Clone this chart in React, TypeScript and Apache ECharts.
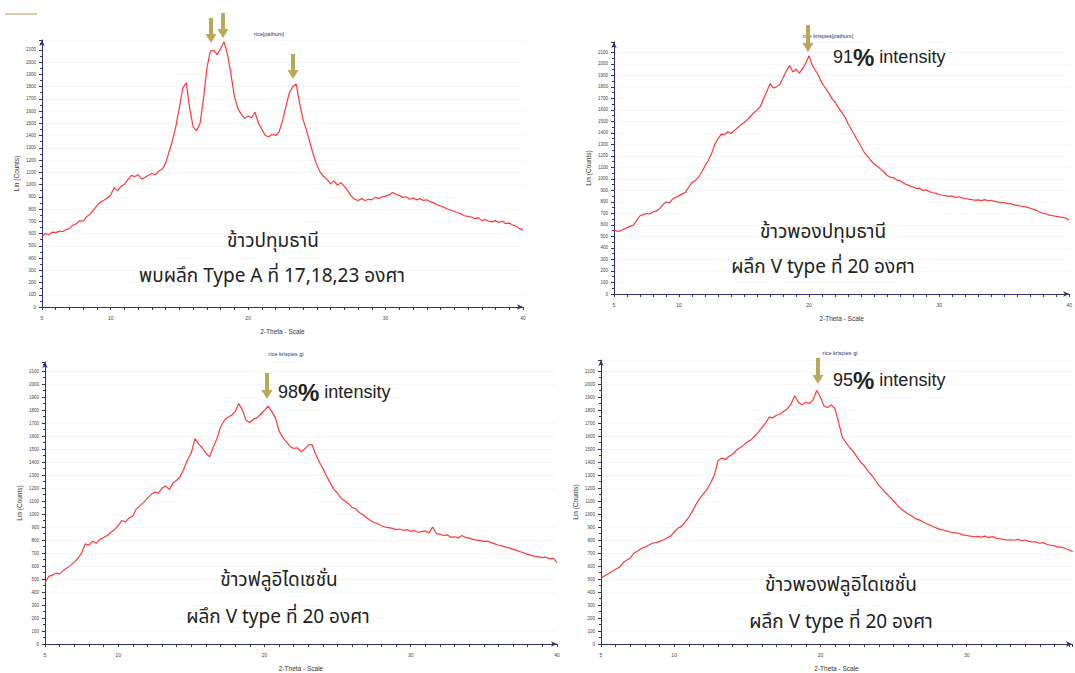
import React, { useEffect, useRef } from "react";
import * as echarts from "echarts";

// 2-Theta grid: 5.00 → step 0.25
const X_START = 5;
const X_STEP = 0.25;

const ricePathum = [
  575, 600, 590, 612, 605, 620, 615, 632, 640, 668, 680, 705, 700, 738, 760, 790, 830, 855, 872, 890,
  915, 975, 950, 985, 1000, 1040, 1075, 1065, 1080, 1045, 1060, 1075, 1090, 1080, 1110, 1125, 1175, 1270, 1360, 1480,
  1630, 1790, 1830, 1620, 1470, 1440, 1500, 1700, 1950, 2090, 2095, 2060, 2110, 2165, 2060, 1900, 1720, 1620, 1575, 1540,
  1560, 1545, 1590, 1500, 1450, 1400, 1390, 1410, 1400, 1430, 1520, 1640, 1750, 1800, 1820, 1660, 1530, 1440, 1340, 1240,
  1160, 1100, 1065, 1040, 1005, 1030, 995, 1015, 985, 950, 905, 880, 870, 885, 870, 880, 875, 895, 885, 900,
  905, 915, 935, 920, 910, 895, 900, 880, 890, 875, 885, 870, 875, 860, 850, 835, 825, 815, 800, 790,
  780, 770, 760, 745, 740, 735, 720, 730, 705, 715, 700, 695, 705, 690, 700, 680, 685, 670, 660, 640, 630,
];

const puffedPathum = [
  556, 545, 548, 565, 575, 590, 600, 640, 680, 690, 700, 695, 715, 720, 740, 775, 800, 790, 825, 840,
  855, 870, 885, 930, 970, 985, 1015, 1060, 1115, 1160, 1220, 1300, 1350, 1390, 1385, 1410, 1395, 1420, 1445, 1470,
  1490, 1515, 1545, 1575, 1600, 1630, 1700, 1760, 1830, 1790, 1800, 1820, 1880, 1940, 1985, 1930, 1955, 1920, 1960, 2010,
  2070, 1985, 1940, 1895, 1830, 1790, 1750, 1700, 1665, 1620, 1580, 1540, 1480, 1430, 1380, 1330, 1280, 1230, 1195, 1160,
  1130, 1110, 1085, 1060, 1030, 1015, 1010, 990, 985, 965, 950, 940, 930, 915, 920, 900, 905, 890, 880, 875,
  865, 858, 855, 848, 852, 840, 845, 835, 830, 825, 820, 815, 818, 812, 820, 810, 815, 805, 800, 795,
  795, 785, 785, 775, 770, 765, 760, 755, 745, 735, 725, 710, 700, 695, 685, 680, 675, 670, 665, 660, 640,
];

const riceFluidized = [
  470, 520, 530, 545, 540, 565, 585, 605, 630, 660, 700, 770, 760, 790, 775, 805, 820, 835, 860, 880,
  910, 950, 940, 970, 985, 1040, 1065, 1090, 1120, 1150, 1170, 1160, 1200, 1215, 1190, 1240, 1260, 1290, 1350, 1420,
  1470, 1580, 1540, 1510, 1470, 1440, 1515, 1580, 1670, 1720, 1745, 1760, 1790, 1850, 1800, 1720, 1705, 1730, 1740, 1770,
  1800, 1830, 1790, 1740, 1640, 1590, 1555, 1520, 1505, 1510, 1480, 1500, 1530, 1535, 1460, 1400, 1350, 1290, 1240, 1190,
  1160, 1120, 1100, 1080, 1050, 1040, 1010, 995, 970, 950, 935, 925, 910, 900, 895, 890, 880, 885, 875, 880,
  868, 872, 860, 865, 870, 855, 900, 850, 845, 835, 840, 820, 825, 815, 835, 820, 815, 805, 800, 795,
  790, 792, 780, 770, 760, 755, 745, 740, 728, 720, 710, 700, 690, 680, 675, 670, 665, 668, 655, 660, 626,
];

const puffedFluidized = [
  505, 525, 540, 560, 575, 590, 625, 645, 660, 700, 715, 735, 745, 760, 775, 780, 790, 800, 815, 830,
  860, 890, 905, 940, 975, 1020, 1075, 1120, 1155, 1190, 1240, 1300, 1410, 1430, 1420, 1445, 1460, 1490, 1510, 1530,
  1555, 1570, 1600, 1630, 1665, 1700, 1745, 1740, 1760, 1770, 1790, 1810, 1850, 1910, 1860, 1840, 1860, 1850, 1880, 1950,
  1900, 1830, 1820, 1840, 1810, 1700, 1590, 1550, 1510, 1480, 1440, 1400, 1370, 1330, 1300, 1260, 1220, 1190, 1160, 1130,
  1100, 1070, 1040, 1020, 1000, 985, 965, 955, 940, 925, 915, 900, 890, 880, 875, 865, 860, 855, 850, 840,
  835, 830, 825, 828, 822, 830, 818, 826, 815, 810, 805, 800, 802, 798, 806, 795, 800, 790, 785, 785,
  775, 780, 765, 760, 755, 745, 745, 735, 725, 710,
];

const panelTitles = ["rice[pathum]", "rice krispies[pathum]", "rice krispies gi", "rice krispies gi"];
const sampleNames = ["ข้าวปทุมธานี", "ข้าวพองปทุมธานี", "ข้าวฟลูอิไดเซชั่น", "ข้าวพองฟลูอิไดเซชั่น"];
const crystalNotes = [
  "พบผลึก Type A ที่ 17,18,23 องศา",
  "ผลึก V type ที่ 20 องศา",
  "ผลึก V type ที่ 20 องศา",
  "ผลึก V type ที่ 20 องศา",
];
const intensityPct = ["", "91", "98", "95"];
const xMaxes = [40, 40, 40, 37.2];
const yMaxes = [2180, 2190, 2170, 2185];

const AXIS = "#2e3070";
const ARROW = "#b9a85c";
const LINE = "#ff3838";
const THAI_FONT = "'Noto Sans Thai', 'Noto Sans', 'DejaVu Sans', sans-serif";

const toPairs = (vals: number[]) => vals.map((c, i) => [X_START + i * X_STEP, c]);

function arrow(cx: number, top: number, len: number) {
  const hw = 5.5;
  const sw = 2;
  const hh = 9;
  return {
    type: "polygon",
    silent: true,
    shape: {
      points: [
        [cx - sw, top],
        [cx + sw, top],
        [cx + sw, top + len - hh],
        [cx + hw, top + len - hh],
        [cx, top + len],
        [cx - hw, top + len - hh],
        [cx - sw, top + len - hh],
      ],
    },
    style: { fill: ARROW },
    z: 100,
  };
}

function bigText(text: string, x: number, y: number) {
  return {
    type: "text",
    x,
    y,
    silent: true,
    style: {
      text,
      fill: "#222",
      fontSize: 19,
      fontFamily: THAI_FONT,
      align: "center",
      verticalAlign: "middle",
    },
    z: 100,
  };
}

function pctText(pct: string, x: number, y: number) {
  return {
    type: "text",
    x,
    y,
    silent: true,
    style: {
      text: `{a|${pct}}{b|%}{a| intensity}`,
      align: "left",
      verticalAlign: "middle",
      rich: {
        a: { fontSize: 18, fill: "#222", fontFamily: "Arial, 'Liberation Sans', sans-serif" },
        b: { fontSize: 24, fontWeight: "bold", fill: "#222", fontFamily: "Arial, 'Liberation Sans', sans-serif" },
      },
    },
    z: 100,
  };
}

function smallTitle(text: string, x: number, y: number) {
  return {
    type: "text",
    x,
    y,
    silent: true,
    style: {
      text,
      fill: "#2e3070",
      fontSize: 5.5,
      fontFamily: "Arial, sans-serif",
      align: "center",
      verticalAlign: "middle",
    },
    z: 90,
  };
}

export default function App() {
  const ref = useRef<HTMLDivElement>(null);

  useEffect(() => {
    if (!ref.current) return;
    const chart = echarts.init(ref.current, undefined, { renderer: "svg" });

    const grids = [
      { left: 42, top: 40, width: 481, height: 267 },
      { left: 614, top: 42, width: 456, height: 252 },
      { left: 45, top: 362, width: 512, height: 283 },
      { left: 601, top: 360, width: 472, height: 284 },
    ];

    const seriesData = [ricePathum, puffedPathum, riceFluidized, puffedFluidized];

    const xAxes = grids.map((_, i) => ({
      type: "value",
      gridIndex: i,
      min: 5,
      max: xMaxes[i],
      interval: 1,
      name: "2-Theta - Scale",
      nameLocation: "middle",
      nameGap: 21,
      nameTextStyle: { fontSize: 6.5, color: "#333", fontFamily: "Arial, sans-serif" },
      axisLine: { show: true, onZero: false, lineStyle: { color: AXIS, width: 1 }, symbol: ["none", "arrow"], symbolSize: [4, 6] },
      axisTick: { show: true, length: 3, lineStyle: { color: AXIS } },
      axisLabel: {
        interval: 0,
        fontSize: 5,
        color: "#444",
        margin: 8,
        formatter: (v: number) => (v === 5 || (v % 10 === 0 && v <= 40) ? String(v) : ""),
      },
      splitLine: { show: false },
    }));

    const yAxes = grids.map((_, i) => ({
      type: "value",
      gridIndex: i,
      min: 0,
      max: yMaxes[i],
      interval: 100,
      name: "Lin (Counts)",
      nameLocation: "middle",
      nameGap: 22,
      nameRotate: 90,
      nameTextStyle: { fontSize: 6.5, color: "#333", fontFamily: "Arial, sans-serif" },
      axisLine: { show: true, lineStyle: { color: AXIS, width: 1 }, symbol: ["none", "arrow"], symbolSize: [4, 6] },
      axisTick: { show: true, length: 3, lineStyle: { color: AXIS } },
      minorTick: { show: true, splitNumber: 2, length: 2, lineStyle: { color: AXIS } },
      axisLabel: {
        fontSize: 4.5,
        color: "#444",
        margin: 6,
        formatter: (v: number) => (v % 100 === 0 && v <= 2100 ? String(v) : ""),
      },
      splitLine: { show: true, lineStyle: { color: "#f6f6f6", width: 1 } },
    }));

    const series = seriesData.map((vals, i) => ({
      type: "line",
      xAxisIndex: i,
      yAxisIndex: i,
      data: toPairs(vals),
      showSymbol: false,
      symbol: "none",
      lineStyle: { color: LINE, width: 1.2 },
      silent: true,
    }));

    const graphic: any[] = [
      { type: "line", shape: { x1: 5, y1: 14, x2: 37, y2: 14 }, style: { stroke: "#cbbd8f", lineWidth: 1.5 } },
      smallTitle(panelTitles[0], 269, 34),
      smallTitle(panelTitles[1], 828, 36),
      smallTitle(panelTitles[2], 286, 354),
      smallTitle(panelTitles[3], 840, 353),
      arrow(211, 18, 25),
      arrow(223, 13, 25),
      arrow(293, 54, 25),
      arrow(808, 25, 27),
      arrow(267, 373, 26),
      arrow(818, 358, 26),
      bigText(sampleNames[0], 273, 241),
      bigText(crystalNotes[0], 272, 276),
      bigText(sampleNames[1], 823, 232),
      bigText(crystalNotes[1], 823, 267),
      bigText(sampleNames[2], 279, 580),
      bigText(crystalNotes[2], 278, 617),
      bigText(sampleNames[3], 841, 585),
      bigText(crystalNotes[3], 841, 622),
      pctText(intensityPct[1], 833, 57),
      pctText(intensityPct[2], 278, 392),
      pctText(intensityPct[3], 833, 380),
    ];

    chart.setOption({
      animation: false,
      backgroundColor: "#ffffff",
      grid: grids,
      xAxis: xAxes,
      yAxis: yAxes,
      series,
      graphic,
    });

    return () => chart.dispose();
  }, []);

  return (
    <div
      ref={ref}
      style={{ position: "fixed", left: 0, top: 0, width: 1075, height: 673, background: "#fff" }}
    />
  );
}
